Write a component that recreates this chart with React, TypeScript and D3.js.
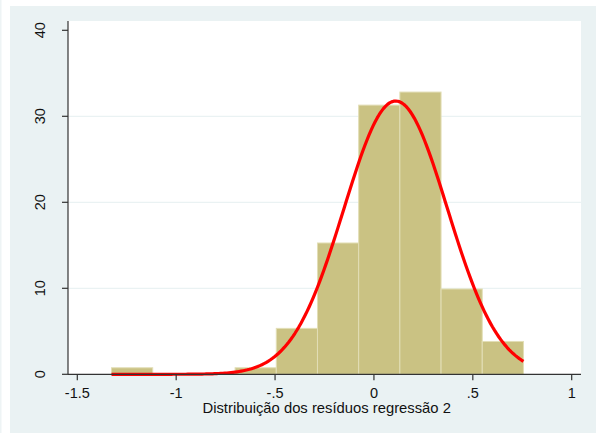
import React from "react";
import * as d3 from "d3";

const binStart = -1.327;
const binWidth = 0.2083;
const barPercents = [0.76, 0, 0, 0.76, 5.34, 15.27, 31.3, 32.82, 9.92, 3.82];
const xTicks = [-1.5, -1, -0.5, 0, 0.5, 1];
const xTickLabels = ["-1.5", "-1", "-.5", "0", ".5", "1"];
const yTicks = [0, 10, 20, 30, 40];
const gridTicks = [10, 20, 30];
const normalMean = 0.11;
const normalSd = 0.2615;
const xTitle = "Distribuição dos resíduos regressão 2";

const W = 596;
const H = 433;
const FONT = "'Liberation Sans', Arial, sans-serif";

export default function App() {
  const plotL = 68, plotR = 581, plotT = 21;
  const x = d3.scaleLinear().domain([-1.5, 1]).range([77.3, 571.7]);
  const y = d3.scaleLinear().domain([0, 40]).range([374.3, 30.3]);
  const y0 = y(0);

  const bins = barPercents.map((v, i) => ({
    x0: binStart + i * binWidth,
    x1: binStart + (i + 1) * binWidth,
    v,
  }));
  const xMin = binStart;
  const xMax = binStart + barPercents.length * binWidth;
  const curvePts = d3.range(0, 201).map((i) => {
    const xv = xMin + ((xMax - xMin) * i) / 200;
    const z = (xv - normalMean) / normalSd;
    const dens = Math.exp(-0.5 * z * z) / (normalSd * Math.sqrt(2 * Math.PI));
    return [xv, dens * binWidth * 100] as [number, number];
  });
  const line = d3
    .line<[number, number]>()
    .x((d) => x(d[0]))
    .y((d) => y(d[1]))
    .curve(d3.curveLinear);

  return (
    <svg
      width={W}
      height={H}
      style={{ position: "absolute", left: 0, top: 0, background: "#fff" }}
    >
      <rect x={0} y={0} width={1.5} height={H} fill="#eef4f5" />
      <rect x={10} y={6} width={W - 10} height={H - 6} fill="#eaf2f3" />
      <rect x={plotL} y={plotT} width={plotR - plotL} height={y0 - plotT} fill="#ffffff" />
      {gridTicks.map((t) => (
        <line key={t} x1={plotL} x2={plotR} y1={y(t)} y2={y(t)} stroke="#eaf2f3" strokeWidth={1.2} />
      ))}
      {bins
        .filter((b) => b.v > 0)
        .map((b, i) => (
          <rect
            key={i}
            x={x(b.x0)}
            y={y(b.v)}
            width={x(b.x1) - x(b.x0)}
            height={y0 - y(b.v)}
            fill="#cac283"
            stroke="#e2deb6"
            strokeWidth={1}
          />
        ))}
      <path d={line(curvePts) || ""} fill="none" stroke="#ff0000" strokeWidth={3.2} strokeLinejoin="round" />
      <line x1={plotL} x2={plotL} y1={plotT} y2={y0} stroke="#333" strokeWidth={1.2} />
      <line x1={plotL} x2={plotR} y1={y0} y2={y0} stroke="#333" strokeWidth={1.2} />
      {yTicks.map((t) => (
        <g key={t}>
          <line x1={plotL - 6} x2={plotL} y1={y(t)} y2={y(t)} stroke="#333" strokeWidth={1.2} />
          <text
            transform={`translate(44.5,${y(t)}) rotate(-90)`}
            textAnchor="middle"
            fontFamily={FONT}
            fontSize={14.5}
            fill="#111"
          >
            {t}
          </text>
        </g>
      ))}
      {xTicks.map((t, i) => (
        <g key={t}>
          <line x1={x(t)} x2={x(t)} y1={y0} y2={y0 + 6} stroke="#333" strokeWidth={1.2} />
          <text x={x(t)} y={397.5} textAnchor="middle" fontFamily={FONT} fontSize={14.5} fill="#111">
            {xTickLabels[i]}
          </text>
        </g>
      ))}
      <text x={326.7} y={413} textAnchor="middle" fontFamily={FONT} fontSize={14.8} fill="#111">
        {xTitle}
      </text>
    </svg>
  );
}
